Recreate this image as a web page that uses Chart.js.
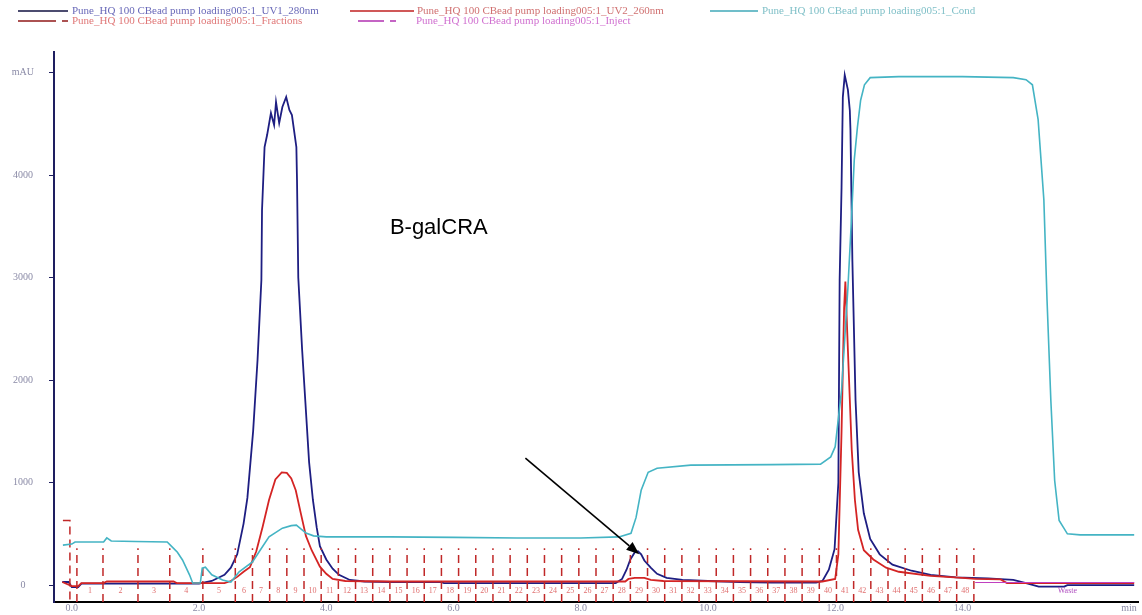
<!DOCTYPE html>
<html>
<head>
<meta charset="utf-8">
<script src="https://cdn.jsdelivr.net/npm/chart.js@4.4.1/dist/chart.umd.min.js"></script>
<style>
html,body{margin:0;padding:0;background:#fff;}
#wrap{width:1142px;height:615px;position:relative;}
</style>
</head>
<body>
<div id="wrap"><canvas id="c" width="1142" height="615"></canvas></div>
<script>
// ---- data ----
const uv1Time = [-0.15,-0.05,0.0,0.1,0.15,2.0,2.2,2.4,2.5,2.6,2.7,2.76,2.85,2.92,2.98,2.99,3.03,3.07,3.13,3.18,3.21,3.26,3.31,3.37,3.42,3.46,3.53,3.54,3.56,3.62,3.67,3.73,3.79,3.85,3.9,4.0,4.1,4.2,4.37,4.6,5.0,5.8,5.85,7.0,8.0,8.55,8.65,8.72,8.78,8.85,8.9,8.95,9.0,9.1,9.2,9.35,9.6,10.0,10.5,11.0,11.7,11.8,11.9,11.99,12.05,12.07,12.1,12.12,12.15,12.2,12.23,12.24,12.27,12.32,12.37,12.45,12.55,12.7,12.9,13.2,13.5,13.9,14.4,14.8,15.0,15.2,15.6,15.65,16.7];
const uv1Val  = [30,30,-20,-20,15,15,40,100,170,300,600,850,1500,2200,2976,3659,4273,4390,4605,4488,4712,4507,4663,4761,4634,4585,4273,3951,3000,2300,1800,1200,830,560,380,250,160,100,50,35,30,30,20,20,20,20,60,150,250,320,330,300,240,170,110,70,50,40,30,25,25,40,150,350,1000,2976,3880,4760,4975,4830,4630,4440,3170,1800,1100,700,450,300,200,140,100,75,65,50,20,-15,-15,0,0];

const uv2Time = [-0.15,0.0,0.1,0.15,0.5,0.55,1.6,1.65,2.4,2.5,2.6,2.7,2.8,2.9,3.0,3.1,3.2,3.3,3.38,3.45,3.52,3.6,3.68,3.77,3.9,4.0,4.1,4.3,5.0,6.0,8.7,8.75,8.85,9.0,9.1,9.3,11.8,12.0,12.05,12.1,12.14,12.16,12.2,12.26,12.31,12.36,12.45,12.6,12.8,13.0,13.5,14.0,14.2,14.6,14.7,16.7];
const uv2Val  = [30,-10,-10,20,20,35,35,20,20,40,80,130,175,330,570,830,1030,1100,1095,1040,925,700,480,340,180,110,60,40,35,35,35,60,70,70,50,40,35,60,300,1500,2700,2960,2290,1320,830,540,340,250,170,130,90,70,60,55,20,20];

const condTime = [-0.14,0.0,0.05,0.5,0.55,0.62,1.0,1.5,1.58,1.66,1.74,1.85,1.9,2.02,2.05,2.1,2.2,2.37,2.5,2.63,2.84,2.95,3.1,3.31,3.45,3.53,3.68,3.8,4.0,5.0,6.0,7.0,8.0,8.6,8.79,8.87,8.95,9.06,9.2,9.73,11.0,11.77,11.93,12.0,12.1,12.2,12.25,12.3,12.35,12.4,12.46,12.55,13.0,14.0,14.8,15.0,15.1,15.19,15.28,15.33,15.39,15.45,15.52,15.65,15.85,16.7];
const condVal  = [390,400,420,420,460,430,425,420,370,320,245,100,20,20,165,175,100,50,30,130,225,330,470,555,580,585,507,480,470,470,465,460,460,470,505,660,925,1100,1140,1170,1175,1180,1250,1350,1900,2900,3500,4150,4470,4730,4880,4950,4960,4960,4950,4930,4880,4540,3760,2780,1800,1020,630,500,490,490];

const injectTime = [14.2,16.7];
const injectVal  = [25,25];

const fracBounds = [0.08,0.49,1.04,1.54,2.06,2.57,2.84,3.11,3.38,3.65,3.92,4.19,4.46,4.73,5.00,5.27,5.54,5.81,6.08,6.35,6.62,6.89,7.16,7.43,7.70,7.97,8.24,8.51,8.78,9.05,9.32,9.59,9.86,10.13,10.40,10.67,10.94,11.21,11.48,11.75,12.02,12.29,12.56,12.83,13.10,13.37,13.64,13.91,14.18];
const fracMarkTop = 360;
const fracStart = {t0:-0.14, t1:-0.03, top:630};
const wasteLabel = {t:15.65, text:'Waste'};

const xTickValues = [0,2,4,6,8,10,12,14,16.62];
const xTickLabels = ['0.0','2.0','4.0','6.0','8.0','10.0','12.0','14.0','min'];
const yTickValues = [0,1000,2000,3000,4000,5000];
const yTickLabels = ['0','1000','2000','3000','4000','mAU'];

const seriesNames = [
  'Pune_HQ 100 CBead pump loading005:1_UV1_280nm',
  'Pune_HQ 100 CBead pump loading005:1_UV2_260nm',
  'Pune_HQ 100 CBead pump loading005:1_Cond',
  'Pune_HQ 100 CBead pump loading005:1_Fractions',
  'Pune_HQ 100 CBead pump loading005:1_Inject'
];
const annotation = {text:'B-galCRA', tx:5.0, ty:3480, ax0:7.13, ay0:1239, ax1:8.92, ay1:300};

// ---- build ----
const pts = (t,v)=>t.map((x,i)=>({x:x,y:v[i]}));
const fracData = [];
fracData.push({x:fracStart.t0,y:fracStart.top},{x:fracStart.t1,y:fracStart.top},{x:fracStart.t1,y:-165},{x:fracStart.t1,y:null});
fracBounds.forEach(t=>{fracData.push({x:t,y:-165},{x:t,y:fracMarkTop},{x:t,y:null});});

const COL = {uv1:'#1e1e82', uv2:'#d42424', cond:'#44b4c4', frac:'#c02828', inj:'#c040c0'};

const overlay = {
  id:'overlay',
  afterDatasetsDraw(chart){
    const {ctx, scales:{x,y}} = chart;
    ctx.save();
    ctx.font = '8px "Liberation Serif"';
    ctx.fillStyle = '#e07070';
    ctx.textAlign='center'; ctx.textBaseline='middle';
    for(let i=0;i<fracBounds.length-1;i++){
      const xm = (x.getPixelForValue(fracBounds[i])+x.getPixelForValue(fracBounds[i+1]))/2;
      ctx.fillText(String(i+1), xm, y.getPixelForValue(-60));
    }
    ctx.fillStyle = '#b050c0';
    ctx.fillText(wasteLabel.text, x.getPixelForValue(wasteLabel.t), y.getPixelForValue(-60));
    ctx.fillStyle='#000';
    ctx.font='22px "Liberation Sans", Arial, sans-serif';
    ctx.textAlign='left'; ctx.textBaseline='middle';
    ctx.fillText(annotation.text, x.getPixelForValue(annotation.tx), y.getPixelForValue(annotation.ty));
    const x0=x.getPixelForValue(annotation.ax0), y0=y.getPixelForValue(annotation.ay0);
    const x1=x.getPixelForValue(annotation.ax1), y1=y.getPixelForValue(annotation.ay1);
    const ang=Math.atan2(y1-y0,x1-x0), hl=13, hw=5;
    ctx.strokeStyle='#000'; ctx.lineWidth=1.6;
    ctx.beginPath(); ctx.moveTo(x0,y0); ctx.lineTo(x1-hl*Math.cos(ang), y1-hl*Math.sin(ang)); ctx.stroke();
    ctx.beginPath();
    ctx.moveTo(x1,y1);
    ctx.lineTo(x1-hl*Math.cos(ang)+hw*Math.sin(ang), y1-hl*Math.sin(ang)-hw*Math.cos(ang));
    ctx.lineTo(x1-hl*Math.cos(ang)-hw*Math.sin(ang), y1-hl*Math.sin(ang)+hw*Math.cos(ang));
    ctx.closePath(); ctx.fill();
    ctx.restore();
  },
  afterDraw(chart){
    const ctx = chart.ctx;
    ctx.save();
    ctx.font='11px "Liberation Serif"';
    ctx.textBaseline='middle'; ctx.textAlign='left';
    const items = [
      {x1:18,x2:68,x3:72,y:11,col:'#101040',tcol:'#6868b8',name:seriesNames[0]},
      {x1:350,x2:414,x3:417,y:11,col:'#c02020',tcol:'#d07070',name:seriesNames[1]},
      {x1:710,x2:758,x3:762,y:11,col:'#40a8b8',tcol:'#80c0c8',name:seriesNames[2]},
      {x1:18,x2:56,x3:72,y:21,col:'#901818',tcol:'#e07878',name:seriesNames[3],dash:true},
      {x1:358,x2:384,x3:416,y:21,col:'#b030b0',tcol:'#d070d0',name:seriesNames[4],dash:true}
    ];
    items.forEach(it=>{
      ctx.strokeStyle=it.col; ctx.lineWidth=1.5;
      ctx.beginPath(); ctx.moveTo(it.x1,it.y); ctx.lineTo(it.x2,it.y); ctx.stroke();
      if(it.dash){ctx.beginPath(); ctx.moveTo(it.x2+6,it.y); ctx.lineTo(it.x2+12,it.y); ctx.stroke();}
      ctx.fillStyle=it.tcol;
      ctx.fillText(it.name,it.x3,it.y);
    });
    ctx.restore();
  }
};

new Chart(document.getElementById('c'),{
  type:'line',
  data:{datasets:[
    {label:seriesNames[2], data:pts(condTime,condVal), borderColor:COL.cond, borderWidth:1.6, pointRadius:0, tension:0},
    {label:seriesNames[3], data:fracData, borderColor:COL.frac, borderWidth:1.5, borderDash:[8,5], pointRadius:0, spanGaps:false, tension:0},
    {label:seriesNames[4], data:pts(injectTime,injectVal), borderColor:COL.inj, borderWidth:1.2, pointRadius:0, tension:0},
    {label:seriesNames[1], data:pts(uv2Time,uv2Val), borderColor:COL.uv2, borderWidth:1.8, pointRadius:0, tension:0},
    {label:seriesNames[0], data:pts(uv1Time,uv1Val), borderColor:COL.uv1, borderWidth:1.8, pointRadius:0, tension:0}
  ]},
  options:{
    responsive:false, animation:false, maintainAspectRatio:false,
    layout:{padding:{top:52,right:4,left:0,bottom:0}},
    plugins:{legend:{display:false}, tooltip:{enabled:false}},
    scales:{
      x:{type:'linear', min:-0.28, max:16.76,
        border:{color:'#000', width:2},
        grid:{drawOnChartArea:false, drawTicks:false},
        afterBuildTicks:s=>{s.ticks=xTickValues.map(v=>({value:v}));},
        afterFit:s=>{s.height=13; s.paddingLeft=0; s.paddingRight=0;},
        ticks:{autoSkip:false, maxRotation:0, padding:0, color:'#8a8aa6', font:{size:10, family:'"Liberation Serif"'},
          callback:(v)=>{const i=xTickValues.indexOf(v); return i>=0?xTickLabels[i]:'';}}
      },
      y:{type:'linear', min:-165, max:5200,
        border:{color:'#1e1e60', width:2},
        grid:{drawOnChartArea:false, drawTicks:true, tickLength:5, color:'#1e1e60'},
        afterBuildTicks:s=>{s.ticks=yTickValues.map(v=>({value:v}));},
        afterFit:s=>{s.width=54; s.paddingTop=0; s.paddingBottom=0;},
        ticks:{crossAlign:'center', padding:15, color:'#8a8aa6', font:{size:10, family:'"Liberation Serif"'},
          callback:(v)=>{const i=yTickValues.indexOf(v); return i>=0?yTickLabels[i]:'';}}
      }
    }
  },
  plugins:[overlay]
});
</script>
</body>
</html>
